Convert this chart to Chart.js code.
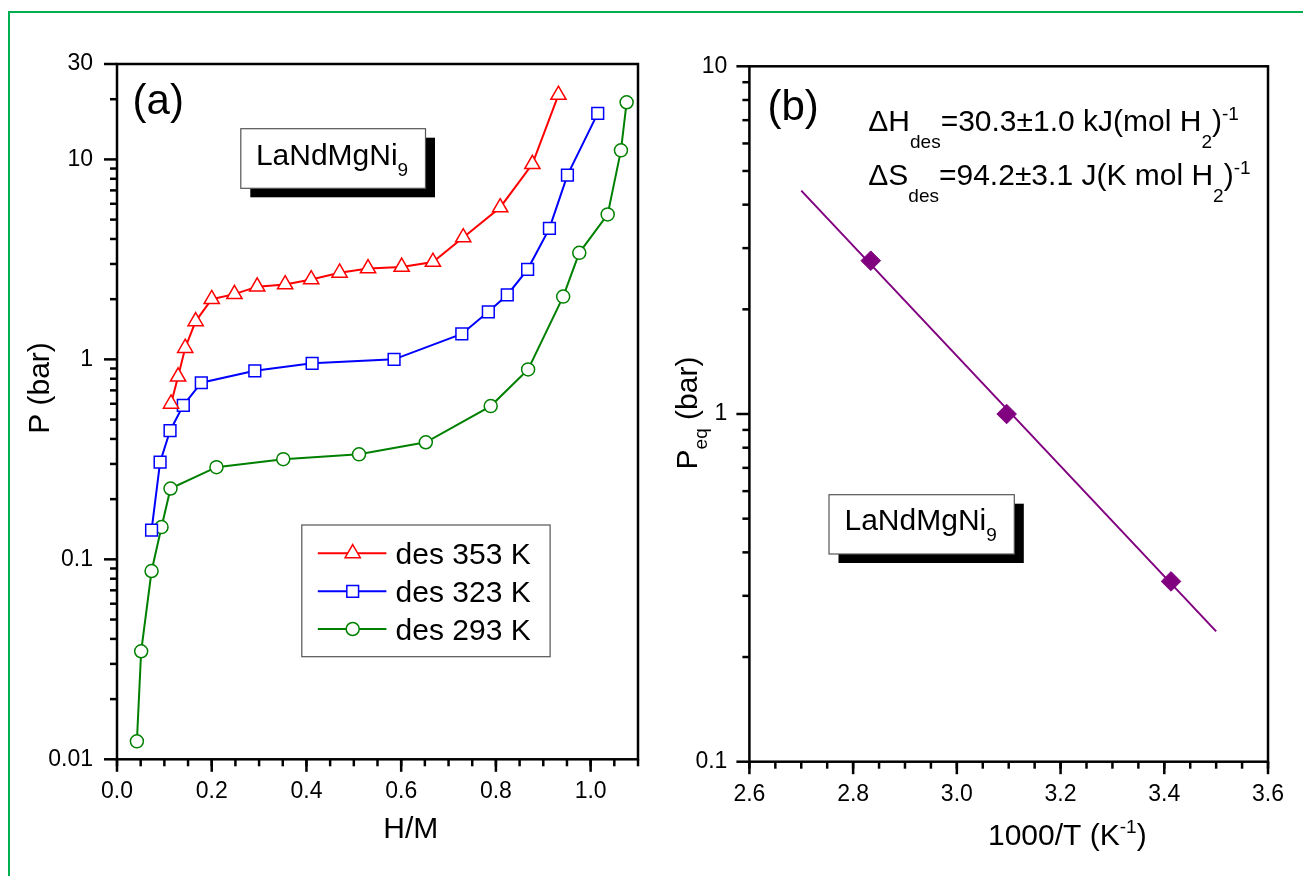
<!DOCTYPE html>
<html><head><meta charset="utf-8">
<script src="https://cdn.jsdelivr.net/npm/chart.js@4.4.0/dist/chart.umd.min.js"></script>
<style>
html,body{margin:0;padding:0;background:#fff;}
#wrap{position:relative;width:1303px;height:876px;overflow:hidden;background:#fff;}
#frame{position:absolute;left:8px;top:11px;width:1303px;height:880px;border-top:2px solid #00b050;border-left:2px solid #00b050;}
.holder{position:absolute;top:0;}
</style></head><body>
<div id="wrap">
<div id="frame"></div>
<div class="holder" style="left:0;width:660px;height:876px"><canvas id="ca" width="660" height="876"></canvas></div>
<div class="holder" style="left:660px;width:643px;height:876px"><canvas id="cb" width="643" height="876"></canvas></div>
</div>
<script>
// ---------- data ----------
const seriesNames = ['des 353 K', 'des 323 K', 'des 293 K'];
const hm353 = [0.114,0.129,0.144,0.166,0.200,0.248,0.296,0.355,0.410,0.470,0.530,0.601,0.667,0.731,0.809,0.877,0.932];
const p353  = [0.60,0.82,1.14,1.55,2.00,2.12,2.31,2.37,2.51,2.71,2.85,2.90,3.07,4.07,5.75,9.47,21.0];
const hm323 = [0.073,0.091,0.112,0.140,0.178,0.291,0.412,0.585,0.728,0.784,0.824,0.867,0.913,0.951,1.015];
const p323  = [0.140,0.306,0.44,0.589,0.764,0.877,0.955,1.00,1.34,1.73,2.10,2.82,4.52,8.35,17.0];
const hm293 = [0.042,0.051,0.073,0.094,0.113,0.210,0.351,0.511,0.652,0.789,0.868,0.942,0.976,1.036,1.064,1.076];
const p293  = [0.0123,0.0347,0.0874,0.145,0.226,0.289,0.317,0.335,0.385,0.584,0.891,2.06,3.41,5.31,11.1,19.3];

const invT = [2.834, 3.096, 3.413];
const peq  = [2.76, 1.00, 0.33];
const fitX = [2.70, 3.50];
const fitY = [4.39, 0.237];

const xTicksA = [0, 0.2, 0.4, 0.6, 0.8, 1.0];
const xLabelsA = ['0.0','0.2','0.4','0.6','0.8','1.0'];
const yTicksA = [0.01, 0.1, 1, 10, 30];
const yLabelsA = ['0.01','0.1','1','10','30'];
const xTicksB = [2.6, 2.8, 3.0, 3.2, 3.4, 3.6];
const xLabelsB = ['2.6','2.8','3.0','3.2','3.4','3.6'];
const yTicksB = [0.1, 1, 10];
const yLabelsB = ['0.1','1','10'];

// ---------- helpers ----------
const F = '"Liberation Sans", Arial, sans-serif';
Chart.defaults.font.family = F;
Chart.defaults.color = '#000';
const pts = (xs, ys) => xs.map((x, i) => ({x: x, y: ys[i]}));

function minorLin(min, max, step){ const r=[]; for(let v=min; v<=max+1e-9; v+=step) r.push(+v.toFixed(4)); return r; }
function minorLog(minDec, maxVal){ const r=[]; for(let d=minDec; d<=maxVal; d*=10){ for(let m=2;m<=9;m++){ const v=+(m*d).toPrecision(3); if(v<maxVal) r.push(v);} } return r; }

function segText(ctx, x, y, segs, draw){
  let cx = x;
  segs.forEach(s => {
    ctx.font = s[1] + 'px ' + F;
    if (draw) ctx.fillText(s[0], cx, y + (s[2]||0));
    cx += ctx.measureText(s[0]).width;
  });
  return cx - x;
}
function shadowBox(ctx, x, y, w, h){
  ctx.fillStyle = '#000';
  ctx.fillRect(x + 9.5, y + 9, w, h);
  ctx.fillStyle = '#fff';
  ctx.fillRect(x, y, w, h);
  ctx.strokeStyle = '#555'; ctx.lineWidth = 1.2;
  ctx.strokeRect(x, y, w, h);
}

function decoPlugin(cfg){
  return { id: 'deco', afterDatasetsDraw(chart){
    const ctx = chart.ctx, a = chart.chartArea, xs = chart.scales.x, ys = chart.scales.y;
    ctx.save();
    ctx.strokeStyle = '#000'; ctx.lineWidth = 2.5; ctx.lineCap = 'butt';
    ctx.strokeRect(a.left, a.top, a.right - a.left, a.bottom - a.top);
    const seg = (x1,y1,x2,y2) => { ctx.beginPath(); ctx.moveTo(x1,y1); ctx.lineTo(x2,y2); ctx.stroke(); };
    cfg.xMinor.forEach(v => { const p = xs.getPixelForValue(v); seg(p, a.bottom, p, a.bottom + 7); });
    cfg.xMajor.forEach(v => { const p = xs.getPixelForValue(v); seg(p, a.bottom, p, a.bottom + 12.5); });
    cfg.yMinor.forEach(v => { const p = ys.getPixelForValue(v); seg(a.left, p, a.left - 7, p); });
    cfg.yMajor.forEach(v => { const p = ys.getPixelForValue(v); seg(a.left, p, a.left - 13, p); });
    ctx.restore();
  }};
}

function setTicks(vals){ return s => { s.ticks = vals.map(v => ({value: v})); }; }

// ---------- panel (a) ----------
const styleA = [
  {c:'#ff0000', ps:'triangle', r:8.8},
  {c:'#0000ff', ps:'rect', r:8.3},
  {c:'#008000', ps:'circle', r:6.5}
];
const dataA = [pts(hm353,p353), pts(hm323,p323), pts(hm293,p293)];

const textA = { id:'textA', afterDraw(chart){
  const ctx = chart.ctx; ctx.save();
  ctx.fillStyle = '#000'; ctx.textBaseline = 'alphabetic'; ctx.textAlign = 'left';
  ctx.font = '42px ' + F; ctx.fillText('(a)', 132.6, 114);
  shadowBox(ctx, 240.8, 128.7, 184.7, 59.6);
  ctx.fillStyle = '#000';
  segText(ctx, 255.9, 165, [['LaNdMgNi',30,0],['9',19,10.5]], true);
  // legend
  ctx.fillStyle = '#fff'; ctx.fillRect(301.8, 525, 248.3, 131.7);
  ctx.strokeStyle = '#555'; ctx.lineWidth = 1.2; ctx.strokeRect(301.8, 525, 248.3, 131.7);
  const rows = [553.3, 591.3, 629];
  chart.data.datasets.forEach((ds, i) => {
    const y = rows[i];
    ctx.strokeStyle = ds.borderColor; ctx.lineWidth = 2;
    ctx.beginPath(); ctx.moveTo(317.8, y); ctx.lineTo(386.4, y); ctx.stroke();
    ctx.fillStyle = '#fff'; ctx.strokeStyle = ds.borderColor; ctx.lineWidth = 1.5;
    Chart.helpers.drawPoint(ctx, {pointStyle: ds.pointStyle, radius: ds.pointRadius, borderWidth: 1.5, rotation: 0}, 352.7, y);
    ctx.fillStyle = '#000'; ctx.font = '30px ' + F;
    ctx.fillText(ds.label, 395.6, y + 10.7);
  });
  // axis titles
  ctx.fillStyle = '#000'; ctx.font = '30px ' + F; ctx.textAlign = 'center';
  ctx.fillText('H/M', 410.8, 838);
  ctx.save(); ctx.translate(49, 388); ctx.rotate(-Math.PI/2);
  ctx.fillText('P (bar)', 0, 0); ctx.restore();
  ctx.restore();
}};

new Chart(document.getElementById('ca'), {
  type: 'scatter',
  data: { datasets: dataA.map((d, i) => ({
    label: seriesNames[i], data: d, showLine: true,
    borderColor: styleA[i].c, borderWidth: 2,
    pointStyle: styleA[i].ps, pointRadius: styleA[i].r, pointBorderWidth: 1.5,
    pointBackgroundColor: '#fff', pointBorderColor: styleA[i].c, tension: 0, clip: false
  })) },
  options: {
    responsive: false, animation: false, devicePixelRatio: 1,
    layout: { padding: { left: 0, top: 64, right: 22, bottom: 0 } },
    plugins: { legend: { display: false }, tooltip: { enabled: false } },
    events: [],
    scales: {
      x: { type: 'linear', min: 0, max: 1.1,
        afterBuildTicks: setTicks(xTicksA), afterFit: s => { s.height = 876 - 759.3; },
        grid: { display: false, drawTicks: false }, border: { display: false },
        ticks: { padding: 19, font: { size: 23 }, maxRotation: 0, autoSkip: false,
          callback: (v, i) => xLabelsA[i] } },
      y: { type: 'logarithmic', min: 0.01, max: 30,
        afterBuildTicks: setTicks(yTicksA), afterFit: s => { s.width = 117; },
        grid: { display: false, drawTicks: false }, border: { display: false },
        ticks: { padding: 24, font: { size: 23 }, autoSkip: false,
          callback: (v, i) => yLabelsA[i] } }
    }
  },
  plugins: [decoPlugin({ xMajor: xTicksA, xMinor: minorLin(0, 1.1, 0.05), yMajor: yTicksA, yMinor: minorLog(0.01, 30) }), textA]
});

// ---------- panel (b) ----------
const textB = { id:'textB', afterDraw(chart){
  const ctx = chart.ctx; ctx.save();
  ctx.fillStyle = '#000'; ctx.textBaseline = 'alphabetic'; ctx.textAlign = 'left';
  ctx.font = '42px ' + F; ctx.fillText('(b)', 107.4, 120);
  segText(ctx, 208.3, 131, [['\u0394H',30,0],['des',19,17],['=30.3\u00b11.0 kJ(mol H',30,0],['2',19,17],[')',30,0],['-1',19,-11]], true);
  segText(ctx, 208.3, 185, [['\u0394S',30,0],['des',19,17],['=94.2\u00b13.1 J(K mol H',30,0],['2',19,17],[')',30,0],['-1',19,-11]], true);
  shadowBox(ctx, 169, 494.7, 185.3, 59.3);
  ctx.fillStyle = '#000';
  segText(ctx, 184.5, 530, [['LaNdMgNi',30,0],['9',19,10.5]], true);
  // x title
  segText(ctx, 328, 845, [['1000/T (K',30,0],['-1',19,-12],[')',30,0]], true);
  // y title rotated
  ctx.save(); ctx.translate(37, 413); ctx.rotate(-Math.PI/2);
  const ys = [['P',30,0],['eq',19,10],[' (bar)',30,0]];
  const w = segText(ctx, 0, 0, ys, false);
  segText(ctx, -w/2, 0, ys, true);
  ctx.restore();
  ctx.restore();
}};

new Chart(document.getElementById('cb'), {
  type: 'scatter',
  data: { datasets: [
    { label: 'Peq', data: pts(invT, peq), showLine: false,
      pointStyle: 'rectRot', pointRadius: 9.8, pointBorderWidth: 1,
      pointBackgroundColor: '#800080', pointBorderColor: '#800080', backgroundColor: '#800080', borderColor: '#800080', clip: false },
    { label: 'fit', data: pts(fitX, fitY), showLine: true, pointRadius: 0,
      borderColor: '#800080', borderWidth: 2, tension: 0, clip: false }
  ] },
  options: {
    responsive: false, animation: false, devicePixelRatio: 1,
    layout: { padding: { left: 0, top: 66.3, right: 32.8, bottom: 0 } },
    plugins: { legend: { display: false }, tooltip: { enabled: false } },
    events: [],
    scales: {
      x: { type: 'linear', min: 2.6, max: 3.6,
        afterBuildTicks: setTicks(xTicksB), afterFit: s => { s.height = 876 - 761.7; },
        grid: { display: false, drawTicks: false }, border: { display: false },
        ticks: { padding: 19, font: { size: 23 }, maxRotation: 0, autoSkip: false,
          callback: (v, i) => xLabelsB[i] } },
      y: { type: 'logarithmic', min: 0.1, max: 10,
        afterBuildTicks: setTicks(yTicksB), afterFit: s => { s.width = 89.4; },
        grid: { display: false, drawTicks: false }, border: { display: false },
        ticks: { padding: 22, font: { size: 23 }, autoSkip: false,
          callback: (v, i) => yLabelsB[i] } }
    }
  },
  plugins: [decoPlugin({ xMajor: xTicksB, xMinor: minorLin(2.6, 3.6, 0.05), yMajor: yTicksB, yMinor: minorLog(0.1, 10) }), textB]
});
</script>
</body></html>
